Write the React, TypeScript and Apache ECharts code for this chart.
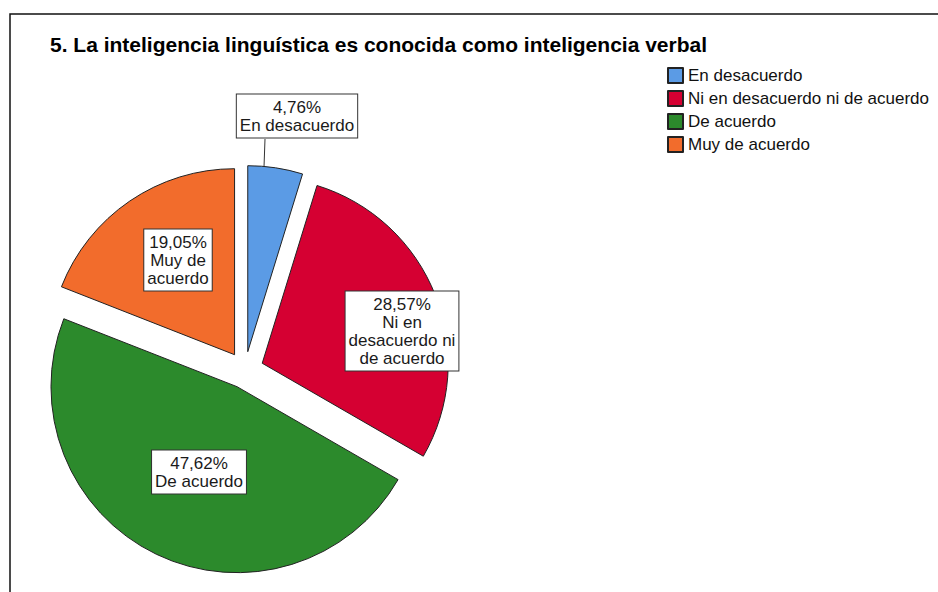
import React, { useEffect, useRef } from "react";
import * as echarts from "echarts";

const titleText = "5. La inteligencia linguística es conocida como inteligencia verbal";
const categories = [
  "En desacuerdo",
  "Ni en desacuerdo ni de acuerdo",
  "De acuerdo",
  "Muy de acuerdo",
];
const percentages = [4.76, 28.57, 47.62, 19.05];
const labelTexts = [
  "4,76%\nEn desacuerdo",
  "28,57%\nNi en\ndesacuerdo ni\nde acuerdo",
  "47,62%\nDe acuerdo",
  "19,05%\nMuy de\nacuerdo",
];
const colors = ["#5B9BE5", "#D50032", "#2C8A2C", "#F26C2C"];
const labelCenters = [
  [297, 116],
  [402, 331],
  [199, 472],
  [178, 260],
];

export default function App() {
  const ref = useRef<HTMLDivElement>(null);
  useEffect(() => {
    if (!ref.current) return;
    const chart = echarts.init(ref.current, null, { renderer: "svg" });
    const font = "Liberation Sans, Arial, sans-serif";
    const common = {
      type: "pie",
      center: [245, 370],
      radius: 186,
      startAngle: 90,
      clockwise: true,
      avoidLabelOverlap: false,
      emphasis: { disabled: true },
    };
    chart.setOption({
      animation: false,
      backgroundColor: "#ffffff",
      title: {
        text: titleText,
        left: 50,
        top: 34,
        padding: 0,
        textStyle: { fontSize: 21, fontWeight: "bold", fontFamily: font, color: "#000" },
      },
      legend: {
        orient: "vertical",
        left: 667,
        top: 67,
        padding: 0,
        itemWidth: 15,
        itemHeight: 15,
        itemGap: 6,
        icon: "rect",
        selectedMode: false,
        textStyle: { fontSize: 17, fontFamily: font, color: "#111" },
        data: categories,
      },
      graphic: [
        {
          type: "rect",
          shape: { x: 10, y: 14, width: 960, height: 620 },
          style: { fill: "none", stroke: "#111", lineWidth: 1.5 },
          silent: true,
        },
      ],
      series: [
        {
          ...common,
          name: "slices",
          selectedMode: "multiple",
          selectedOffset: 18.5,
          itemStyle: { borderColor: "#222", borderWidth: 1 },
          label: { show: false },
          labelLine: { show: false },
          data: categories.map((name, i) => ({
            name,
            value: percentages[i],
            selected: true,
            itemStyle: { color: colors[i] },
          })),
        },
        {
          ...common,
          name: "labels",
          silent: true,
          itemStyle: { color: "rgba(0,0,0,0)", borderWidth: 0 },
          label: {
            show: true,
            position: "inside",
            fontSize: 17,
            lineHeight: 18,
            fontFamily: font,
            color: "#1a1a1a",
            align: "center",
            backgroundColor: "#fff",
            borderColor: "#333",
            borderWidth: 1,
            padding: [4, 3, 3, 3],
            formatter: (p: any) => labelTexts[p.dataIndex],
          },
          labelLine: { show: false },
          labelLayout: (params: any) => {
            const i = params.dataIndex;
            const [x, y] = labelCenters[i];
            const res: any = { x, y, align: "center", verticalAlign: "middle" };
            if (i === 0) {
              res.labelLinePoints = [
                [264, 167],
                [265, 139],
                [265, 139],
              ];
            }
            return res;
          },
          data: categories.map((name, i) => ({
            name,
            value: percentages[i],
            ...(i === 0
              ? {
                  label: { position: "outside" },
                  labelLine: { show: true, length: 10, length2: 0, lineStyle: { color: "#333", width: 1 } },
                }
              : {}),
          })),
        },
      ],
    });
    return () => chart.dispose();
  }, []);
  return (
    <div
      ref={ref}
      style={{ position: "absolute", left: 0, top: 0, width: 938, height: 592 }}
    />
  );
}
